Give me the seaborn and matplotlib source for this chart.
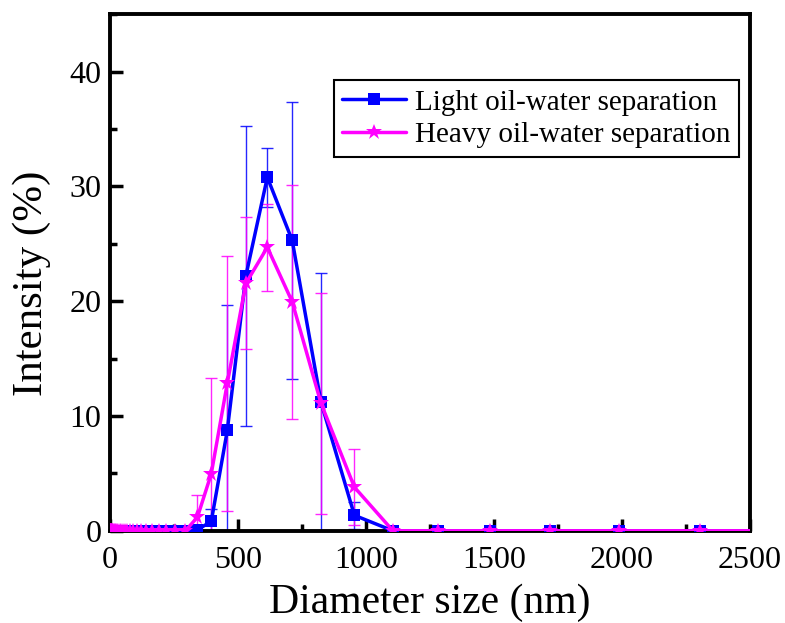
import numpy as np
import pandas as pd
import matplotlib
matplotlib.use("Agg")
import matplotlib.pyplot as plt
import seaborn as sns
from matplotlib.ticker import MultipleLocator

# DLS size bins (nm)
sizes = [0.4, 0.4632, 0.5365, 0.6213, 0.7195, 0.8332, 0.9649, 1.117, 1.294, 1.499,
         1.736, 2.01, 2.328, 2.696, 3.122, 3.615, 4.187, 4.849, 5.615, 6.503,
         7.531, 8.721, 10.1, 11.7, 13.54, 15.69, 18.17, 21.04, 24.36, 28.21,
         32.67, 37.84, 43.82, 50.75, 58.77, 68.06, 78.82, 91.28, 105.7, 122.4,
         141.8, 164.2, 190.1, 220.2, 255.0, 295.3, 342.0, 396.1, 458.7, 531.2,
         615.1, 712.4, 825.0, 955.4, 1106, 1281, 1484, 1718, 1990, 2305, 2669]

# intensities for the non-zero bins (342 .. 955 nm), everything else is 0
light_peak = [0.1, 0.81, 8.74, 22.2, 30.8, 25.3, 11.2, 1.35]
light_err = [0.1, 1.1, 10.9, 13.1, 2.55, 12.1, 11.3, 1.2]
heavy_peak = [1.19, 4.97, 12.85, 21.55, 24.7, 19.95, 11.1, 3.8]
heavy_err = [1.9, 8.3, 11.1, 5.75, 3.8, 10.2, 9.6, 3.3]

first = sizes.index(342.0)
n = len(sizes)


def pad(vals):
    out = [0.0] * n
    out[first:first + len(vals)] = vals
    return out


df = pd.DataFrame({
    "size": sizes * 2,
    "intensity": pad(light_peak) + pad(heavy_peak),
    "err": pad(light_err) + pad(heavy_err),
    "sample": ["Light oil-water separation"] * n + ["Heavy oil-water separation"] * n,
})

sns.set_style("ticks", {"axes.edgecolor": "black", "xtick.color": "black",
                        "ytick.color": "black", "text.color": "black",
                        "axes.labelcolor": "black"})
plt.rcParams["font.family"] = ["Liberation Serif", "DejaVu Serif"]

fig, ax = plt.subplots(figsize=(7.85, 6.23), dpi=100)
fig.subplots_adjust(left=0.140, right=0.955, bottom=0.148, top=0.977)

colors = {"Light oil-water separation": "#0000ff",
          "Heavy oil-water separation": "#ff00ff"}
markers = {"Light oil-water separation": "s",
           "Heavy oil-water separation": "*"}
msizes = {"Light oil-water separation": 8,
          "Heavy oil-water separation": 12}

# error bars first (thin), then lines with markers via seaborn
for name, sub in df.groupby("sample", sort=False):
    ax.errorbar(sub["size"], sub["intensity"], yerr=sub["err"], fmt="none",
                ecolor=colors[name], elinewidth=1, capsize=4.5, capthick=1,
                alpha=0.85, zorder=2)

for name, sub in df.groupby("sample", sort=False):
    sns.lineplot(data=sub, x="size", y="intensity", ax=ax, color=colors[name],
                 marker=markers[name], markersize=msizes[name],
                 markeredgewidth=0, linewidth=2.5, label=name, zorder=3)

ax.set_xlim(0, 2500)
ax.set_ylim(0, 45)
ax.xaxis.set_major_locator(MultipleLocator(500))
ax.xaxis.set_minor_locator(MultipleLocator(250))
ax.yaxis.set_major_locator(MultipleLocator(10))
ax.yaxis.set_minor_locator(MultipleLocator(5))
ax.tick_params(which="major", direction="in", length=9, width=2.5,
               labelsize=23, colors="black")
ax.tick_params(axis="x", which="major", pad=11)
ax.tick_params(axis="y", which="major", pad=6)
ax.tick_params(which="minor", direction="in", length=5, width=2.5, colors="black")
for sp in ax.spines.values():
    sp.set_linewidth(2.8)
    sp.set_color("black")
    sp.set_visible(True)

ax.set_xlabel("Diameter size (nm)", fontsize=30, labelpad=6, color="black")
ax.set_ylabel("Intensity (%)", fontsize=31, va="center", color="black")
ax.yaxis.set_label_coords(-0.122, 0.48)

leg = ax.legend(loc="upper right", bbox_to_anchor=(0.984, 0.872), fontsize=21,
                frameon=True, fancybox=False, handlelength=2.2,
                borderpad=0.3, labelspacing=0.2, handletextpad=0.3,
                borderaxespad=0.0)
leg.get_frame().set_edgecolor("black")
leg.get_frame().set_linewidth(1.5)
leg.get_frame().set_alpha(1)
for t in leg.get_texts():
    t.set_color("black")

fig.savefig("out.png", dpi=100)
